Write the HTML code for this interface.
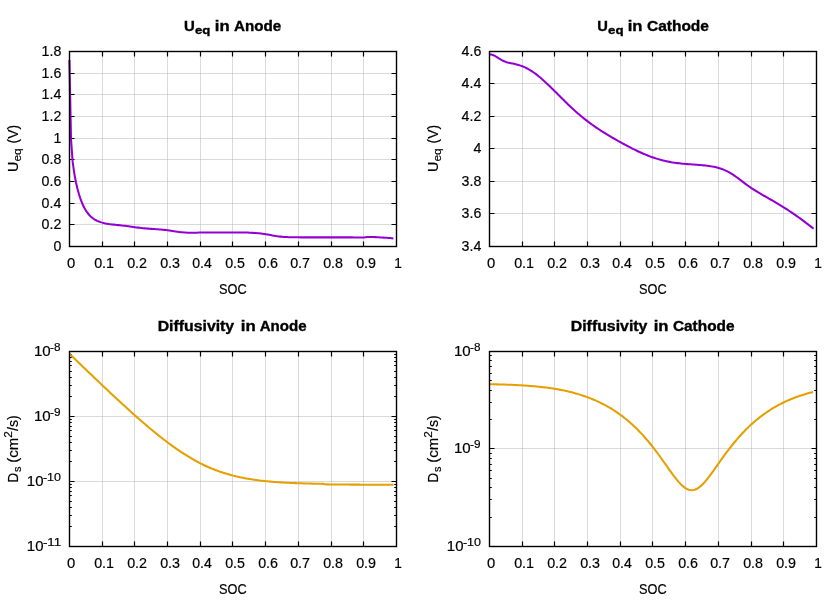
<!DOCTYPE html>
<html><head><meta charset="utf-8"><title>plot</title>
<style>
html,body{margin:0;padding:0;background:#fff;}
svg{display:block;will-change:transform;}
text{font-family:"Liberation Sans",sans-serif;font-size:14.2px;fill:#000;stroke:#000;stroke-width:0.18px;}
text[font-weight=bold]{stroke-width:0.35px;}
.gr{stroke:#b4b4b4;stroke-width:0.5;fill:none;}
.tk{stroke:#000;stroke-width:1.2;fill:none;}
.fr{stroke:#000;stroke-width:1.4;fill:none;}
</style></head><body>
<svg width="840" height="600" viewBox="0 0 840 600">
<rect width="840" height="600" fill="#fff"/>
<path d="M102.5,51.5V246.5M134.5,51.5V246.5M167.5,51.5V246.5M200.5,51.5V246.5M232.5,51.5V246.5M265.5,51.5V246.5M298.5,51.5V246.5M331.5,51.5V246.5M363.5,51.5V246.5" class="gr"/>
<path d="M69.5,224.5H396.5M69.5,203.5H396.5M69.5,181.5H396.5M69.5,159.5H396.5M69.5,138.5H396.5M69.5,116.5H396.5M69.5,94.5H396.5M69.5,73.5H396.5" class="gr"/>
<path d="M102.5,246.5v-5M102.5,51.5v5M134.5,246.5v-5M134.5,51.5v5M167.5,246.5v-5M167.5,51.5v5M200.5,246.5v-5M200.5,51.5v5M232.5,246.5v-5M232.5,51.5v5M265.5,246.5v-5M265.5,51.5v5M298.5,246.5v-5M298.5,51.5v5M331.5,246.5v-5M331.5,51.5v5M363.5,246.5v-5M363.5,51.5v5M69.5,224.5h5M396.5,224.5h-5M69.5,203.5h5M396.5,203.5h-5M69.5,181.5h5M396.5,181.5h-5M69.5,159.5h5M396.5,159.5h-5M69.5,138.5h5M396.5,138.5h-5M69.5,116.5h5M396.5,116.5h-5M69.5,94.5h5M396.5,94.5h-5M69.5,73.5h5M396.5,73.5h-5" class="tk"/>
<path d="M69.40,59.99L71.04,139.67L72.67,161.94L74.31,173.57L75.95,182.19L77.58,189.23L79.22,195.08L80.86,199.97L82.49,204.05L84.13,207.47L85.77,210.32L87.40,212.73L89.04,214.74L90.68,216.43L92.31,217.84L93.95,219.02L95.59,220.02L97.22,220.85L98.86,221.55L100.50,222.13L102.13,222.63L103.77,223.05L105.41,223.41L107.04,223.71L108.68,223.98L110.32,224.21L111.95,224.42L113.59,224.61L115.23,224.79L116.86,224.96L118.50,225.13L120.14,225.30L121.77,225.48L123.41,225.66L125.05,225.85L126.68,226.06L128.32,226.27L129.96,226.50L131.59,226.73L133.23,226.96L134.87,227.20L136.50,227.42L138.14,227.64L139.78,227.85L141.41,228.04L143.05,228.21L144.69,228.37L146.32,228.51L147.96,228.64L149.60,228.75L151.23,228.86L152.87,228.97L154.51,229.07L156.14,229.18L157.78,229.29L159.42,229.41L161.05,229.55L162.69,229.71L164.33,229.89L165.96,230.09L167.60,230.32L169.24,230.57L170.87,230.83L172.51,231.09L174.15,231.35L175.78,231.60L177.42,231.82L179.06,232.02L180.69,232.19L182.33,232.34L183.97,232.46L185.60,232.56L187.24,232.65L188.88,232.70L190.51,232.75L192.15,232.79L193.79,232.81L195.42,232.84L197.06,232.69L198.70,232.47L200.33,232.48L201.97,232.48L203.61,232.49L205.24,232.49L206.88,232.50L208.52,232.50L210.15,232.50L211.79,232.50L213.43,232.50L215.06,232.51L216.70,232.51L218.34,232.51L219.97,232.51L221.61,232.51L223.25,232.51L224.88,232.51L226.52,232.51L228.16,232.51L229.79,232.51L231.43,232.51L233.07,232.51L234.70,232.52L236.34,232.52L237.98,232.52L239.61,232.53L241.25,232.54L242.89,232.54L244.52,232.56L246.16,232.57L247.80,232.60L249.43,232.70L251.07,232.81L252.70,232.87L254.34,232.94L255.98,233.03L257.61,233.15L259.25,233.29L260.89,233.45L262.52,233.65L264.16,233.89L265.80,234.15L267.43,234.45L269.07,234.76L270.71,235.08L272.34,235.40L273.98,235.71L275.62,235.99L277.25,236.23L278.89,236.45L280.53,236.63L282.16,236.78L283.80,236.90L285.44,237.01L287.07,237.09L288.71,237.15L290.35,237.21L291.98,237.25L293.62,237.29L295.26,237.32L296.89,237.34L298.53,237.35L300.17,237.35L301.80,237.36L303.44,237.36L305.08,237.37L306.71,237.37L308.35,237.37L309.99,237.37L311.62,237.37L313.26,237.37L314.90,237.38L316.53,237.38L318.17,237.38L319.81,237.38L321.44,237.38L323.08,237.38L324.72,237.38L326.35,237.38L327.99,237.38L329.63,237.38L331.26,237.38L332.90,237.38L334.54,237.38L336.17,237.38L337.81,237.38L339.45,237.38L341.08,237.38L342.72,237.38L344.36,237.38L345.99,237.38L347.63,237.39L349.27,237.39L350.90,237.39L352.54,237.39L354.18,237.40L355.81,237.40L357.45,237.40L359.09,237.41L360.72,237.42L362.36,237.42L364.00,237.40L365.63,237.25L367.27,237.09L368.91,236.97L370.54,236.99L372.18,237.01L373.82,237.05L375.45,237.13L377.09,237.21L378.73,237.30L380.36,237.40L382.00,237.51L383.64,237.64L385.27,237.76L386.91,237.85L388.55,237.96L390.18,238.10L391.82,238.27L393.46,238.50" fill="none" stroke="#9400d3" stroke-width="2.05" stroke-linejoin="round" stroke-linecap="butt"/>
<rect x="69.5" y="51.5" width="327" height="195" class="fr"/>
<text transform="translate(67.03,267.70) scale(1.0441,1)" style="font-size:14.2px">0</text>
<text transform="translate(94.14,267.70) scale(1.0108,1)" style="font-size:14.2px">0.1</text>
<text transform="translate(127.14,267.70) scale(1.0108,1)" style="font-size:14.2px">0.2</text>
<text transform="translate(160.15,267.70) scale(1.0081,1)" style="font-size:14.2px">0.3</text>
<text transform="translate(192.15,267.70) scale(0.9947,1)" style="font-size:14.2px">0.4</text>
<text transform="translate(225.15,267.70) scale(1.0054,1)" style="font-size:14.2px">0.5</text>
<text transform="translate(258.15,267.70) scale(1.0081,1)" style="font-size:14.2px">0.6</text>
<text transform="translate(290.14,267.70) scale(1.0108,1)" style="font-size:14.2px">0.7</text>
<text transform="translate(323.15,267.70) scale(1.0054,1)" style="font-size:14.2px">0.8</text>
<text transform="translate(356.14,267.70) scale(1.0108,1)" style="font-size:14.2px">0.9</text>
<text transform="translate(394.24,267.70) scale(0.9672,1)" style="font-size:14.2px">1</text>
<text transform="translate(61.30,250.90) scale(1.0000,1)" style="font-size:14.2px" text-anchor="end">0</text>
<text transform="translate(61.30,228.90) scale(1.0000,1)" style="font-size:14.2px" text-anchor="end">0.2</text>
<text transform="translate(61.30,207.90) scale(1.0000,1)" style="font-size:14.2px" text-anchor="end">0.4</text>
<text transform="translate(61.30,185.90) scale(1.0000,1)" style="font-size:14.2px" text-anchor="end">0.6</text>
<text transform="translate(61.30,163.90) scale(1.0000,1)" style="font-size:14.2px" text-anchor="end">0.8</text>
<text transform="translate(61.30,142.90) scale(1.0000,1)" style="font-size:14.2px" text-anchor="end">1</text>
<text transform="translate(61.30,120.90) scale(1.0000,1)" style="font-size:14.2px" text-anchor="end">1.2</text>
<text transform="translate(61.30,98.90) scale(1.0000,1)" style="font-size:14.2px" text-anchor="end">1.4</text>
<text transform="translate(61.30,77.90) scale(1.0000,1)" style="font-size:14.2px" text-anchor="end">1.6</text>
<text transform="translate(61.30,55.90) scale(1.0000,1)" style="font-size:14.2px" text-anchor="end">1.8</text>
<text transform="translate(219.02,293.80) scale(0.8968,1)" style="font-size:14.2px">SOC</text>
<text transform="translate(184.01,30.90) scale(1.0526,1)" style="font-size:14.2px" font-weight="bold">U</text>
<text transform="translate(194.88,33.50) scale(1.1583,1)" style="font-size:11.36px" font-weight="bold">eq</text>
<text transform="translate(214.83,30.90) scale(1.1721,1)" style="font-size:14.2px" font-weight="bold">in</text>
<text transform="translate(233.93,30.90) scale(1.0704,1)" style="font-size:14.2px" font-weight="bold">Anode</text>
<text transform="translate(17.70,172.11) rotate(-90) scale(1.0062,1)" style="font-size:14.2px">U</text>
<text transform="translate(20.90,161.52) rotate(-90) scale(1.0439,1)" style="font-size:11.36px">eq</text>
<text transform="translate(17.70,143.48) rotate(-90) scale(0.9796,1)" style="font-size:14.2px">(V)</text>
<path d="M522.5,51.5V246.5M554.5,51.5V246.5M587.5,51.5V246.5M620.5,51.5V246.5M652.5,51.5V246.5M685.5,51.5V246.5M718.5,51.5V246.5M751.5,51.5V246.5M783.5,51.5V246.5" class="gr"/>
<path d="M489.5,213.5H816.5M489.5,181.5H816.5M489.5,148.5H816.5M489.5,116.5H816.5M489.5,83.5H816.5" class="gr"/>
<path d="M522.5,246.5v-5M522.5,51.5v5M554.5,246.5v-5M554.5,51.5v5M587.5,246.5v-5M587.5,51.5v5M620.5,246.5v-5M620.5,51.5v5M652.5,246.5v-5M652.5,51.5v5M685.5,246.5v-5M685.5,51.5v5M718.5,246.5v-5M718.5,51.5v5M751.5,246.5v-5M751.5,51.5v5M783.5,246.5v-5M783.5,51.5v5M489.5,213.5h5M816.5,213.5h-5M489.5,181.5h5M816.5,181.5h-5M489.5,148.5h5M816.5,148.5h-5M489.5,116.5h5M816.5,116.5h-5M489.5,83.5h5M816.5,83.5h-5" class="tk"/>
<path d="M489.50,54.46L491.14,54.56L492.77,54.97L494.41,55.65L496.05,56.55L497.68,57.57L499.32,58.63L500.96,59.63L502.59,60.53L504.23,61.29L505.87,61.91L507.50,62.42L509.14,62.84L510.78,63.20L512.41,63.53L514.05,63.87L515.69,64.24L517.32,64.65L518.96,65.11L520.60,65.63L522.23,66.23L523.87,66.90L525.51,67.64L527.14,68.46L528.78,69.36L530.42,70.33L532.05,71.38L533.69,72.49L535.33,73.67L536.96,74.91L538.60,76.21L540.24,77.57L541.87,78.97L543.51,80.42L545.15,81.91L546.78,83.43L548.42,84.99L550.06,86.57L551.69,88.17L553.33,89.79L554.97,91.42L556.60,93.05L558.24,94.70L559.88,96.34L561.51,97.97L563.15,99.60L564.79,101.22L566.42,102.82L568.06,104.40L569.70,105.97L571.33,107.51L572.97,109.03L574.61,110.52L576.24,111.99L577.88,113.42L579.52,114.83L581.15,116.21L582.79,117.56L584.43,118.88L586.06,120.16L587.70,121.42L589.34,122.66L590.97,123.86L592.61,125.04L594.25,126.19L595.88,127.32L597.52,128.42L599.16,129.50L600.79,130.57L602.43,131.61L604.07,132.64L605.70,133.65L607.34,134.65L608.98,135.63L610.61,136.60L612.25,137.56L613.89,138.51L615.52,139.44L617.16,140.37L618.80,141.29L620.43,142.20L622.07,143.10L623.71,143.99L625.34,144.87L626.98,145.74L628.62,146.60L630.25,147.45L631.89,148.29L633.53,149.11L635.16,149.92L636.80,150.71L638.44,151.48L640.07,152.24L641.71,152.98L643.35,153.70L644.98,154.40L646.62,155.07L648.26,155.72L649.89,156.35L651.53,156.96L653.17,157.53L654.80,158.09L656.44,158.61L658.08,159.11L659.71,159.59L661.35,160.03L662.99,160.45L664.62,160.85L666.26,161.21L667.90,161.56L669.53,161.88L671.17,162.17L672.80,162.45L674.44,162.70L676.08,162.93L677.71,163.14L679.35,163.34L680.99,163.52L682.62,163.68L684.26,163.84L685.90,163.98L687.53,164.11L689.17,164.23L690.81,164.35L692.44,164.47L694.08,164.58L695.72,164.70L697.35,164.81L698.99,164.94L700.63,165.07L702.26,165.21L703.90,165.36L705.54,165.53L707.17,165.72L708.81,165.94L710.45,166.18L712.08,166.45L713.72,166.76L715.36,167.10L716.99,167.50L718.63,167.94L720.27,168.44L721.90,169.00L723.54,169.63L725.18,170.33L726.81,171.10L728.45,171.94L730.09,172.87L731.72,173.86L733.36,174.92L735.00,176.04L736.63,177.21L738.27,178.42L739.91,179.65L741.54,180.90L743.18,182.14L744.82,183.38L746.45,184.59L748.09,185.78L749.73,186.93L751.36,188.05L753.00,189.13L754.64,190.18L756.27,191.21L757.91,192.20L759.55,193.18L761.18,194.13L762.82,195.08L764.46,196.01L766.09,196.94L767.73,197.87L769.37,198.80L771.00,199.74L772.64,200.68L774.28,201.63L775.91,202.59L777.55,203.56L779.19,204.54L780.82,205.54L782.46,206.55L784.10,207.57L785.73,208.61L787.37,209.67L789.01,210.74L790.64,211.83L792.28,212.94L793.92,214.06L795.55,215.20L797.19,216.35L798.83,217.52L800.46,218.70L802.10,219.90L803.74,221.12L805.37,222.35L807.01,223.60L808.65,224.86L810.28,226.13L811.92,227.42L813.56,228.73" fill="none" stroke="#9400d3" stroke-width="2.05" stroke-linejoin="round" stroke-linecap="butt"/>
<rect x="489.5" y="51.5" width="327" height="195" class="fr"/>
<text transform="translate(487.03,267.70) scale(1.0441,1)" style="font-size:14.2px">0</text>
<text transform="translate(514.14,267.70) scale(1.0108,1)" style="font-size:14.2px">0.1</text>
<text transform="translate(547.14,267.70) scale(1.0108,1)" style="font-size:14.2px">0.2</text>
<text transform="translate(580.15,267.70) scale(1.0081,1)" style="font-size:14.2px">0.3</text>
<text transform="translate(612.15,267.70) scale(0.9947,1)" style="font-size:14.2px">0.4</text>
<text transform="translate(645.15,267.70) scale(1.0054,1)" style="font-size:14.2px">0.5</text>
<text transform="translate(678.15,267.70) scale(1.0081,1)" style="font-size:14.2px">0.6</text>
<text transform="translate(710.14,267.70) scale(1.0108,1)" style="font-size:14.2px">0.7</text>
<text transform="translate(743.15,267.70) scale(1.0054,1)" style="font-size:14.2px">0.8</text>
<text transform="translate(776.14,267.70) scale(1.0108,1)" style="font-size:14.2px">0.9</text>
<text transform="translate(814.24,267.70) scale(0.9672,1)" style="font-size:14.2px">1</text>
<text transform="translate(481.30,250.90) scale(1.0000,1)" style="font-size:14.2px" text-anchor="end">3.4</text>
<text transform="translate(481.30,217.90) scale(1.0000,1)" style="font-size:14.2px" text-anchor="end">3.6</text>
<text transform="translate(481.30,185.90) scale(1.0000,1)" style="font-size:14.2px" text-anchor="end">3.8</text>
<text transform="translate(481.30,152.90) scale(1.0000,1)" style="font-size:14.2px" text-anchor="end">4</text>
<text transform="translate(481.30,120.90) scale(1.0000,1)" style="font-size:14.2px" text-anchor="end">4.2</text>
<text transform="translate(481.30,87.90) scale(1.0000,1)" style="font-size:14.2px" text-anchor="end">4.4</text>
<text transform="translate(481.30,55.90) scale(1.0000,1)" style="font-size:14.2px" text-anchor="end">4.6</text>
<text transform="translate(639.02,293.80) scale(0.8968,1)" style="font-size:14.2px">SOC</text>
<text transform="translate(597.17,30.90) scale(1.0351,1)" style="font-size:14.2px" font-weight="bold">U</text>
<text transform="translate(608.08,33.50) scale(1.1667,1)" style="font-size:11.36px" font-weight="bold">eq</text>
<text transform="translate(627.73,30.90) scale(1.1721,1)" style="font-size:14.2px" font-weight="bold">in</text>
<text transform="translate(646.95,30.90) scale(1.0916,1)" style="font-size:14.2px" font-weight="bold">Cathode</text>
<text transform="translate(437.70,172.11) rotate(-90) scale(1.0062,1)" style="font-size:14.2px">U</text>
<text transform="translate(440.90,161.52) rotate(-90) scale(1.0439,1)" style="font-size:11.36px">eq</text>
<text transform="translate(437.70,143.48) rotate(-90) scale(0.9796,1)" style="font-size:14.2px">(V)</text>
<path d="M102.5,351.5V546.5M134.5,351.5V546.5M167.5,351.5V546.5M200.5,351.5V546.5M232.5,351.5V546.5M265.5,351.5V546.5M298.5,351.5V546.5M331.5,351.5V546.5M363.5,351.5V546.5" class="gr"/>
<path d="M69.5,481.5H396.5M69.5,416.5H396.5" class="gr"/>
<path d="M102.5,546.5v-5M102.5,351.5v5M134.5,546.5v-5M134.5,351.5v5M167.5,546.5v-5M167.5,351.5v5M200.5,546.5v-5M200.5,351.5v5M232.5,546.5v-5M232.5,351.5v5M265.5,546.5v-5M265.5,351.5v5M298.5,546.5v-5M298.5,351.5v5M331.5,546.5v-5M331.5,351.5v5M363.5,546.5v-5M363.5,351.5v5M69.5,481.5h5M396.5,481.5h-5M69.5,416.5h5M396.5,416.5h-5M69.5,526.5h2.3M396.5,526.5h-2.3M69.5,515.5h2.3M396.5,515.5h-2.3M69.5,507.5h2.3M396.5,507.5h-2.3M69.5,501.5h2.3M396.5,501.5h-2.3M69.5,495.5h2.3M396.5,495.5h-2.3M69.5,491.5h2.3M396.5,491.5h-2.3M69.5,487.5h2.3M396.5,487.5h-2.3M69.5,484.5h2.3M396.5,484.5h-2.3M69.5,461.5h2.3M396.5,461.5h-2.3M69.5,450.5h2.3M396.5,450.5h-2.3M69.5,442.5h2.3M396.5,442.5h-2.3M69.5,436.5h2.3M396.5,436.5h-2.3M69.5,430.5h2.3M396.5,430.5h-2.3M69.5,426.5h2.3M396.5,426.5h-2.3M69.5,422.5h2.3M396.5,422.5h-2.3M69.5,419.5h2.3M396.5,419.5h-2.3M69.5,396.5h2.3M396.5,396.5h-2.3M69.5,385.5h2.3M396.5,385.5h-2.3M69.5,377.5h2.3M396.5,377.5h-2.3M69.5,371.5h2.3M396.5,371.5h-2.3M69.5,365.5h2.3M396.5,365.5h-2.3M69.5,361.5h2.3M396.5,361.5h-2.3M69.5,357.5h2.3M396.5,357.5h-2.3M69.5,354.5h2.3M396.5,354.5h-2.3" class="tk"/>
<path d="M69.50,353.82L71.14,355.40L72.77,356.98L74.41,358.56L76.05,360.13L77.68,361.71L79.32,363.29L80.96,364.86L82.59,366.43L84.23,368.01L85.87,369.58L87.50,371.14L89.14,372.71L90.78,374.28L92.41,375.84L94.05,377.40L95.69,378.96L97.32,380.52L98.96,382.08L100.60,383.63L102.23,385.18L103.87,386.73L105.51,388.28L107.14,389.82L108.78,391.36L110.42,392.89L112.05,394.43L113.69,395.96L115.33,397.48L116.96,399.01L118.60,400.52L120.24,402.04L121.87,403.55L123.51,405.05L125.15,406.55L126.78,408.04L128.42,409.53L130.06,411.01L131.69,412.49L133.33,413.96L134.97,415.42L136.60,416.87L138.24,418.31L139.88,419.74L141.51,421.17L143.15,422.58L144.79,423.99L146.42,425.39L148.06,426.78L149.70,428.16L151.33,429.52L152.97,430.88L154.61,432.22L156.24,433.56L157.88,434.88L159.52,436.19L161.15,437.48L162.79,438.76L164.43,440.03L166.06,441.28L167.70,442.52L169.34,443.74L170.97,444.94L172.61,446.13L174.25,447.30L175.88,448.45L177.52,449.59L179.16,450.70L180.79,451.80L182.43,452.88L184.07,453.94L185.70,454.97L187.34,455.99L188.98,456.99L190.61,457.96L192.25,458.92L193.89,459.85L195.52,460.76L197.16,461.65L198.80,462.51L200.43,463.35L202.07,464.17L203.71,464.97L205.34,465.75L206.98,466.50L208.62,467.23L210.25,467.94L211.89,468.62L213.53,469.29L215.16,469.93L216.80,470.55L218.44,471.15L220.07,471.73L221.71,472.28L223.35,472.82L224.98,473.33L226.62,473.83L228.26,474.31L229.89,474.77L231.53,475.20L233.17,475.63L234.80,476.04L236.44,476.44L238.08,476.81L239.71,477.18L241.35,477.52L242.99,477.86L244.62,478.17L246.26,478.48L247.90,478.77L249.53,479.04L251.17,479.31L252.80,479.56L254.44,479.80L256.08,480.03L257.71,480.24L259.35,480.45L260.99,480.65L262.62,480.84L264.26,481.01L265.90,481.18L267.53,481.34L269.17,481.50L270.81,481.64L272.44,481.78L274.08,481.91L275.72,482.04L277.35,482.16L278.99,482.27L280.63,482.38L282.26,482.48L283.90,482.57L285.54,482.66L287.17,482.75L288.81,482.83L290.45,482.91L292.08,482.98L293.72,483.05L295.36,483.12L296.99,483.18L298.63,483.24L300.27,483.29L301.90,483.35L303.54,483.40L305.18,483.44L306.81,483.49L308.45,483.53L310.09,483.57L311.72,483.61L313.36,483.65L315.00,483.68L316.63,483.71L318.27,483.74L319.91,483.77L321.54,483.80L323.18,483.86L324.82,484.14L326.45,484.37L328.09,484.39L329.73,484.41L331.36,484.43L333.00,484.45L334.64,484.47L336.27,484.49L337.91,484.50L339.55,484.52L341.18,484.53L342.82,484.54L344.46,484.56L346.09,484.57L347.73,484.58L349.37,484.59L351.00,484.60L352.64,484.61L354.28,484.62L355.91,484.63L357.55,484.63L359.19,484.64L360.82,484.65L362.46,484.66L364.10,484.66L365.73,484.67L367.37,484.67L369.01,484.68L370.64,484.68L372.28,484.69L373.92,484.69L375.55,484.70L377.19,484.70L378.83,484.71L380.46,484.71L382.10,484.71L383.74,484.72L385.37,484.72L387.01,484.72L388.65,484.72L390.28,484.73L391.92,484.73L393.56,484.73" fill="none" stroke="#e69f00" stroke-width="2.05" stroke-linejoin="round" stroke-linecap="butt"/>
<rect x="69.5" y="351.5" width="327" height="195" class="fr"/>
<text transform="translate(67.03,567.70) scale(1.0441,1)" style="font-size:14.2px">0</text>
<text transform="translate(94.14,567.70) scale(1.0108,1)" style="font-size:14.2px">0.1</text>
<text transform="translate(127.14,567.70) scale(1.0108,1)" style="font-size:14.2px">0.2</text>
<text transform="translate(160.15,567.70) scale(1.0081,1)" style="font-size:14.2px">0.3</text>
<text transform="translate(192.15,567.70) scale(0.9947,1)" style="font-size:14.2px">0.4</text>
<text transform="translate(225.15,567.70) scale(1.0054,1)" style="font-size:14.2px">0.5</text>
<text transform="translate(258.15,567.70) scale(1.0081,1)" style="font-size:14.2px">0.6</text>
<text transform="translate(290.14,567.70) scale(1.0108,1)" style="font-size:14.2px">0.7</text>
<text transform="translate(323.15,567.70) scale(1.0054,1)" style="font-size:14.2px">0.8</text>
<text transform="translate(356.14,567.70) scale(1.0108,1)" style="font-size:14.2px">0.9</text>
<text transform="translate(394.24,567.70) scale(0.9672,1)" style="font-size:14.2px">1</text>
<text transform="translate(26.84,550.90) scale(1.0530,1)" style="font-size:14.2px">10</text>
<text transform="translate(42.91,545.90) scale(1.1724,1)" style="font-size:11.36px">-11</text>
<text transform="translate(26.84,485.90) scale(1.0530,1)" style="font-size:14.2px">10</text>
<text transform="translate(42.95,480.90) scale(1.1003,1)" style="font-size:11.36px">-10</text>
<text transform="translate(33.93,420.90) scale(1.0601,1)" style="font-size:14.2px">10</text>
<text transform="translate(50.08,415.90) scale(1.0387,1)" style="font-size:11.36px">-9</text>
<text transform="translate(33.93,355.90) scale(1.0601,1)" style="font-size:14.2px">10</text>
<text transform="translate(50.08,350.90) scale(1.0330,1)" style="font-size:11.36px">-8</text>
<text transform="translate(219.02,593.80) scale(0.8968,1)" style="font-size:14.2px">SOC</text>
<text transform="translate(157.64,330.90) scale(1.1154,1)" style="font-size:14.2px" font-weight="bold">Diffusivity</text>
<text transform="translate(240.82,330.90) scale(1.1814,1)" style="font-size:14.2px" font-weight="bold">in</text>
<text transform="translate(259.73,330.90) scale(1.0611,1)" style="font-size:14.2px" font-weight="bold">Anode</text>
<text transform="translate(17.70,482.48) rotate(-90) scale(0.9405,1)" style="font-size:14.2px">D</text>
<text transform="translate(20.90,472.04) rotate(-90) scale(0.9592,1)" style="font-size:11.36px">s</text>
<text transform="translate(17.70,462.65) rotate(-90) scale(1.0572,1)" style="font-size:14.2px">(cm</text>
<text transform="translate(12.40,437.87) rotate(-90) scale(1.0385,1)" style="font-size:11.36px">2</text>
<text transform="translate(17.70,431.00) rotate(-90) scale(1.0067,1)" style="font-size:14.2px">/s)</text>
<path d="M522.5,351.5V546.5M554.5,351.5V546.5M587.5,351.5V546.5M620.5,351.5V546.5M652.5,351.5V546.5M685.5,351.5V546.5M718.5,351.5V546.5M751.5,351.5V546.5M783.5,351.5V546.5" class="gr"/>
<path d="M489.5,448.5H816.5" class="gr"/>
<path d="M522.5,546.5v-5M522.5,351.5v5M554.5,546.5v-5M554.5,351.5v5M587.5,546.5v-5M587.5,351.5v5M620.5,546.5v-5M620.5,351.5v5M652.5,546.5v-5M652.5,351.5v5M685.5,546.5v-5M685.5,351.5v5M718.5,546.5v-5M718.5,351.5v5M751.5,546.5v-5M751.5,351.5v5M783.5,546.5v-5M783.5,351.5v5M489.5,448.5h5M816.5,448.5h-5M489.5,517.5h2.3M816.5,517.5h-2.3M489.5,499.5h2.3M816.5,499.5h-2.3M489.5,487.5h2.3M816.5,487.5h-2.3M489.5,478.5h2.3M816.5,478.5h-2.3M489.5,470.5h2.3M816.5,470.5h-2.3M489.5,464.5h2.3M816.5,464.5h-2.3M489.5,458.5h2.3M816.5,458.5h-2.3M489.5,453.5h2.3M816.5,453.5h-2.3M489.5,419.5h2.3M816.5,419.5h-2.3M489.5,402.5h2.3M816.5,402.5h-2.3M489.5,390.5h2.3M816.5,390.5h-2.3M489.5,380.5h2.3M816.5,380.5h-2.3M489.5,373.5h2.3M816.5,373.5h-2.3M489.5,366.5h2.3M816.5,366.5h-2.3M489.5,360.5h2.3M816.5,360.5h-2.3M489.5,355.5h2.3M816.5,355.5h-2.3" class="tk"/>
<path d="M489.00,384.19L490.64,384.22L492.27,384.25L493.91,384.29L495.55,384.32L497.18,384.36L498.82,384.40L500.46,384.45L502.09,384.50L503.73,384.55L505.37,384.60L507.00,384.66L508.64,384.72L510.28,384.78L511.91,384.85L513.55,384.92L515.19,385.00L516.82,385.08L518.46,385.16L520.10,385.25L521.73,385.35L523.37,385.45L525.01,385.56L526.64,385.67L528.28,385.79L529.92,385.91L531.55,386.05L533.19,386.18L534.83,386.33L536.46,386.49L538.10,386.65L539.74,386.82L541.37,387.00L543.01,387.18L544.65,387.38L546.28,387.59L547.92,387.80L549.56,388.03L551.19,388.27L552.83,388.52L554.47,388.78L556.10,389.05L557.74,389.34L559.38,389.63L561.01,389.94L562.65,390.27L564.29,390.61L565.92,390.96L567.56,391.33L569.20,391.71L570.83,392.11L572.47,392.53L574.11,392.96L575.74,393.41L577.38,393.88L579.02,394.37L580.65,394.87L582.29,395.40L583.93,395.95L585.56,396.51L587.20,397.10L588.84,397.71L590.47,398.35L592.11,399.00L593.75,399.69L595.38,400.39L597.02,401.12L598.66,401.88L600.29,402.67L601.93,403.48L603.57,404.32L605.20,405.19L606.84,406.09L608.48,407.02L610.11,407.98L611.75,408.97L613.39,410.00L615.02,411.06L616.66,412.16L618.30,413.29L619.93,414.46L621.57,415.66L623.21,416.91L624.84,418.19L626.48,419.52L628.12,420.88L629.75,422.29L631.39,423.74L633.03,425.23L634.66,426.77L636.30,428.36L637.94,429.99L639.57,431.66L641.21,433.39L642.85,435.16L644.48,436.98L646.12,438.86L647.76,440.77L649.39,442.74L651.03,444.76L652.67,446.82L654.30,448.92L655.94,451.07L657.58,453.26L659.21,455.49L660.85,457.75L662.49,460.04L664.12,462.35L665.76,464.67L667.40,466.99L669.03,469.31L670.67,471.60L672.30,473.86L673.94,476.06L675.58,478.19L677.21,480.22L678.85,482.13L680.49,483.90L682.12,485.50L683.76,486.90L685.40,488.07L687.03,489.01L688.67,489.68L690.31,490.07L691.94,490.18L693.58,490.00L695.22,489.54L696.85,488.80L698.49,487.80L700.13,486.57L701.76,485.12L703.40,483.47L705.04,481.67L706.67,479.72L708.31,477.67L709.95,475.52L711.58,473.30L713.22,471.03L714.86,468.73L716.49,466.41L718.13,464.08L719.77,461.77L721.40,459.46L723.04,457.18L724.68,454.93L726.31,452.71L727.95,450.53L729.59,448.39L731.22,446.30L732.86,444.25L734.50,442.24L736.13,440.29L737.77,438.38L739.41,436.52L741.04,434.71L742.68,432.95L744.32,431.24L745.95,429.57L747.59,427.96L749.23,426.38L750.86,424.85L752.50,423.37L754.14,421.93L755.77,420.54L757.41,419.18L759.05,417.87L760.68,416.59L762.32,415.36L763.96,414.16L765.59,413.00L767.23,411.88L768.87,410.79L770.50,409.74L772.14,408.72L773.78,407.74L775.41,406.78L777.05,405.86L778.69,404.97L780.32,404.11L781.96,403.27L783.60,402.47L785.23,401.69L786.87,400.94L788.51,400.21L790.14,399.51L791.78,398.84L793.42,398.19L795.05,397.56L796.69,396.95L798.33,396.37L799.96,395.81L801.60,395.26L803.24,394.74L804.87,394.24L806.51,393.76L808.15,393.30L809.78,392.85L811.42,392.42L813.06,392.01" fill="none" stroke="#e69f00" stroke-width="2.05" stroke-linejoin="round" stroke-linecap="butt"/>
<rect x="489.5" y="351.5" width="327" height="195" class="fr"/>
<text transform="translate(487.03,567.70) scale(1.0441,1)" style="font-size:14.2px">0</text>
<text transform="translate(514.14,567.70) scale(1.0108,1)" style="font-size:14.2px">0.1</text>
<text transform="translate(547.14,567.70) scale(1.0108,1)" style="font-size:14.2px">0.2</text>
<text transform="translate(580.15,567.70) scale(1.0081,1)" style="font-size:14.2px">0.3</text>
<text transform="translate(612.15,567.70) scale(0.9947,1)" style="font-size:14.2px">0.4</text>
<text transform="translate(645.15,567.70) scale(1.0054,1)" style="font-size:14.2px">0.5</text>
<text transform="translate(678.15,567.70) scale(1.0081,1)" style="font-size:14.2px">0.6</text>
<text transform="translate(710.14,567.70) scale(1.0108,1)" style="font-size:14.2px">0.7</text>
<text transform="translate(743.15,567.70) scale(1.0054,1)" style="font-size:14.2px">0.8</text>
<text transform="translate(776.14,567.70) scale(1.0108,1)" style="font-size:14.2px">0.9</text>
<text transform="translate(814.24,567.70) scale(0.9672,1)" style="font-size:14.2px">1</text>
<text transform="translate(446.84,550.90) scale(1.0530,1)" style="font-size:14.2px">10</text>
<text transform="translate(462.95,545.90) scale(1.1003,1)" style="font-size:11.36px">-10</text>
<text transform="translate(453.93,452.90) scale(1.0601,1)" style="font-size:14.2px">10</text>
<text transform="translate(470.08,447.90) scale(1.0387,1)" style="font-size:11.36px">-9</text>
<text transform="translate(453.93,355.90) scale(1.0601,1)" style="font-size:14.2px">10</text>
<text transform="translate(470.08,350.90) scale(1.0330,1)" style="font-size:11.36px">-8</text>
<text transform="translate(639.02,593.80) scale(0.8968,1)" style="font-size:14.2px">SOC</text>
<text transform="translate(570.74,330.90) scale(1.1183,1)" style="font-size:14.2px" font-weight="bold">Diffusivity</text>
<text transform="translate(653.73,330.90) scale(1.1721,1)" style="font-size:14.2px" font-weight="bold">in</text>
<text transform="translate(672.95,330.90) scale(1.0844,1)" style="font-size:14.2px" font-weight="bold">Cathode</text>
<text transform="translate(437.70,482.48) rotate(-90) scale(0.9405,1)" style="font-size:14.2px">D</text>
<text transform="translate(440.90,472.04) rotate(-90) scale(0.9592,1)" style="font-size:11.36px">s</text>
<text transform="translate(437.70,462.65) rotate(-90) scale(1.0572,1)" style="font-size:14.2px">(cm</text>
<text transform="translate(432.40,437.87) rotate(-90) scale(1.0385,1)" style="font-size:11.36px">2</text>
<text transform="translate(437.70,431.00) rotate(-90) scale(1.0067,1)" style="font-size:14.2px">/s)</text>
</svg>
</body></html>
